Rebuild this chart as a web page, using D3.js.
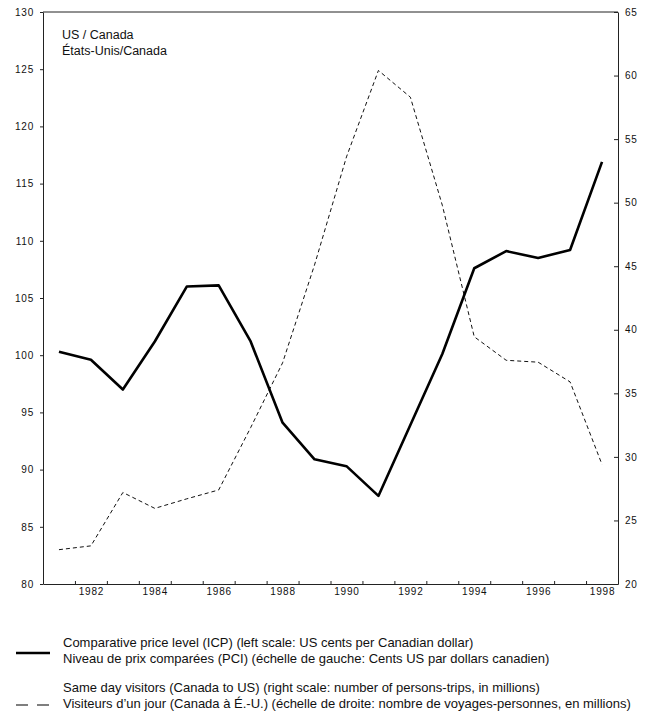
<!DOCTYPE html>
<html>
<head>
<meta charset="utf-8">
<script src="https://cdn.jsdelivr.net/npm/d3@7"></script>
<style>
  body { margin: 0; background: #fff; }
  svg { display: block; font-family: "Liberation Sans", Arial, sans-serif; }
  .tick text { font-size: 10px; letter-spacing: 0.8px; fill: #111; }
  .domain, .tick line { stroke: #222; }
</style>
</head>
<body>
<div id="chart"></div>
<script>
// Data
const years = d3.range(1981, 1999);
const priceLevel = [100.3, 99.6, 97.0, 101.2, 106.0, 106.1, 101.2, 94.1, 90.9, 90.3, 87.7, 93.9, 100.1, 107.6, 109.1, 108.5, 109.2, 116.9];
const sameDayVisitors = [22.7, 23.0, 27.2, 25.95, 26.7, 27.4, 32.3, 37.4, 45.1, 53.6, 60.4, 58.3, 49.8, 39.45, 37.6, 37.45, 35.9, 29.4];
const leftTicks = [80, 85, 90, 95, 100, 105, 110, 115, 120, 125, 130];
const rightTicks = [20, 25, 30, 35, 40, 45, 50, 55, 60, 65];
const yearLabels = [1982, 1984, 1986, 1988, 1990, 1992, 1994, 1996, 1998];
const titleLines = ['US / Canada', 'États-Unis/Canada'];
const legendItems = [
  { dash: null, width: 2.6, lines: ['Comparative price level (ICP) (left scale: US cents per Canadian dollar)',
    'Niveau de prix comparées (PCI) (échelle de gauche: Cents US par dollars canadien)'] },
  { dash: '12,9', width: 1.2, lines: ['Same day visitors (Canada to US) (right scale: number of persons-trips, in millions)',
    'Visiteurs d\u2019un jour (Canada à É.-U.) (échelle de droite: nombre de voyages-personnes, en millions)'] }
];

const W = 657, H = 713;
const plot = { left: 43, right: 618, top: 12, bottom: 584 };

const svg = d3.select('#chart').append('svg')
  .attr('width', W)
  .attr('height', H);

const x = d3.scaleLinear().domain([1980.5, 1998.5]).range([plot.left, plot.right]);
const yLeft = d3.scaleLinear().domain([80, 130]).range([plot.bottom, plot.top]);
const yRight = d3.scaleLinear().domain([20, 65]).range([plot.bottom, plot.top]);

// top border
svg.append('line')
  .attr('x1', plot.left).attr('x2', plot.right)
  .attr('y1', plot.top).attr('y2', plot.top)
  .attr('stroke', '#222');

// left axis, ticks outward
svg.append('g')
  .attr('transform', `translate(${plot.left},0)`)
  .call(d3.axisLeft(yLeft).tickValues(leftTicks).tickSize(3).tickPadding(6).tickSizeOuter(0));

// right axis, ticks pointing into the plot
svg.append('g')
  .attr('transform', `translate(${plot.right},0)`)
  .call(d3.axisRight(yRight).tickValues(rightTicks).tickSize(-4).tickPadding(7).tickSizeOuter(0));

// bottom axis: small ticks between years
svg.append('g')
  .attr('transform', `translate(0,${plot.bottom})`)
  .call(d3.axisBottom(x).tickValues(d3.range(1981.5, 1998, 1)).tickSize(-3).tickSizeOuter(0).tickFormat(''));

// year labels on even years
const labelAxis = svg.append('g')
  .attr('transform', `translate(0,${plot.bottom})`)
  .call(d3.axisBottom(x).tickValues(yearLabels).tickSize(0).tickPadding(4).tickFormat(d3.format('d')));
labelAxis.select('.domain').remove();

// lines
const solid = d3.line().x((d, i) => x(years[i])).y(d => yLeft(d));
const dashed = d3.line().x((d, i) => x(years[i])).y(d => yRight(d));

svg.append('path')
  .datum(sameDayVisitors)
  .attr('d', dashed)
  .attr('fill', 'none')
  .attr('stroke', '#111')
  .attr('stroke-width', 1)
  .attr('stroke-dasharray', '4,3');

svg.append('path')
  .datum(priceLevel)
  .attr('d', solid)
  .attr('fill', 'none')
  .attr('stroke', '#000')
  .attr('stroke-width', 2.6)
  .attr('stroke-linejoin', 'round');

// title
svg.append('text')
  .style('font-size', '12.5px')
  .attr('fill', '#111')
  .selectAll('tspan')
  .data(titleLines)
  .join('tspan')
  .attr('x', 62)
  .attr('y', (d, i) => 39 + i * 15.5)
  .text(d => d);

// legend
const legend = svg.append('g');
legendItems.forEach((item, i) => {
  const y0 = 647 + i * 45;
  const sampleY = y0 + (i ? 13 : 6);
  legend.append('line')
    .attr('x1', 16).attr('x2', 50)
    .attr('y1', sampleY).attr('y2', sampleY)
    .attr('stroke', '#000')
    .attr('stroke-width', item.width)
    .attr('stroke-dasharray', item.dash);
  legend.append('text')
    .style('font-size', '13px')
    .attr('fill', '#111')
    .selectAll('tspan')
    .data(item.lines)
    .join('tspan')
    .attr('x', 63)
    .attr('y', (d, j) => y0 + j * 16)
    .text(d => d);
});
</script>
</body>
</html>
